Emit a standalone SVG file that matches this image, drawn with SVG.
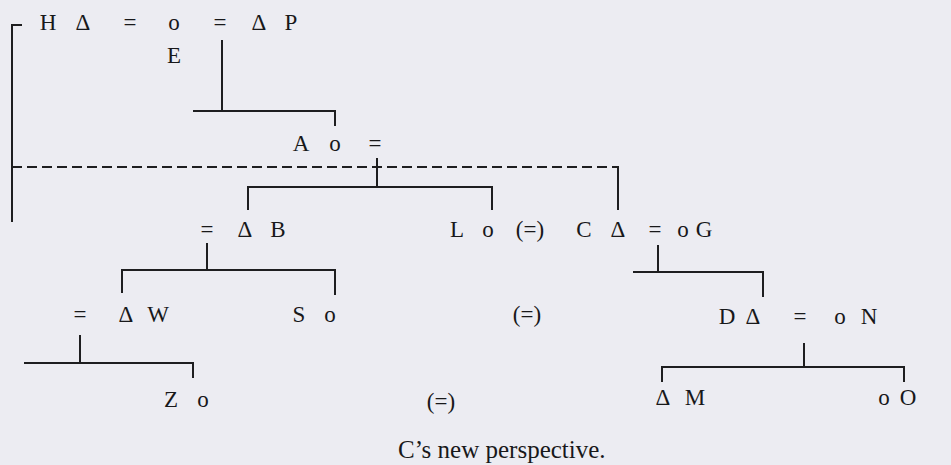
<svg xmlns="http://www.w3.org/2000/svg" width="951" height="465" viewBox="0 0 951 465">
<style>
.t{font-family:"Liberation Serif","Times New Roman",serif;font-size:23px;fill:#18181a;text-anchor:middle}
.cap{font-family:"Liberation Serif","Times New Roman",serif;font-size:25px;fill:#18181a}
.l{fill:none;stroke:#1e1e20;stroke-width:2}
.d{fill:none;stroke:#1e1e20;stroke-width:2;stroke-dasharray:10 5}
</style>
<rect width="951" height="465" fill="#ececf2"/>
<g id="connectors">
<path class="l" d="M22,25 H12 V222"/>
<path class="l" d="M222,40 V111"/>
<path class="l" d="M193,111 H335 V126"/>
<path class="d" d="M12,167 H613"/>
<path class="l" d="M613,167 H618 V210"/>
<path class="l" d="M377,158 V187"/>
<path class="l" d="M248,210 V187 H492 V210"/>
<path class="l" d="M207,243 V270"/>
<path class="l" d="M122,293 V270 H335 V295"/>
<path class="l" d="M80,335 V363"/>
<path class="l" d="M24,363 H193 V378"/>
<path class="l" d="M658,245 V272"/>
<path class="l" d="M633,272 H763 V297"/>
<path class="l" d="M804,343 V367"/>
<path class="l" d="M662,382 V367 H904 V382"/>
</g>
<g id="H"><text class="t" x="48" y="30">H</text><text class="t" x="83" y="30">Δ</text></g>
<g id="m1"><text class="t" x="130" y="30">=</text></g>
<g id="E"><text class="t" x="174" y="30">o</text><text class="t" x="174" y="63">E</text></g>
<g id="m2"><text class="t" x="220" y="30">=</text></g>
<g id="P"><text class="t" x="259" y="30">Δ</text><text class="t" x="291" y="30">P</text></g>
<g id="A"><text class="t" x="301" y="151">A</text><text class="t" x="335" y="151">o</text><text class="t" x="375" y="151">=</text></g>
<g id="B"><text class="t" x="207" y="237">=</text><text class="t" x="245" y="237">Δ</text><text class="t" x="278" y="237">B</text></g>
<g id="L"><text class="t" x="457" y="237">L</text><text class="t" x="488" y="237">o</text><text class="t" x="530" y="237">(=)</text></g>
<g id="C"><text class="t" x="584" y="237">C</text><text class="t" x="618" y="237">Δ</text></g>
<g id="G"><text class="t" x="655" y="237">=</text><text class="t" x="683" y="237">o</text><text class="t" x="704" y="237">G</text></g>
<g id="W"><text class="t" x="80" y="322">=</text><text class="t" x="126" y="322">Δ</text><text class="t" x="158" y="322">W</text></g>
<g id="S"><text class="t" x="299" y="322">S</text><text class="t" x="330" y="322">o</text></g>
<g id="m3"><text class="t" x="527" y="322">(=)</text></g>
<g id="D"><text class="t" x="727" y="324">D</text><text class="t" x="753" y="324">Δ</text><text class="t" x="800" y="324">=</text></g>
<g id="N"><text class="t" x="840" y="324">o</text><text class="t" x="869" y="324">N</text></g>
<g id="Z"><text class="t" x="171" y="407">Z</text><text class="t" x="203" y="407">o</text></g>
<g id="m4"><text class="t" x="441" y="409">(=)</text></g>
<g id="M"><text class="t" x="663" y="405">Δ</text><text class="t" x="695" y="405">M</text></g>
<g id="O"><text class="t" x="884" y="405">o</text><text class="t" x="908" y="405">O</text></g>
<g id="caption"><text class="cap" x="398" y="458">C’s new perspective.</text></g>
</svg>
